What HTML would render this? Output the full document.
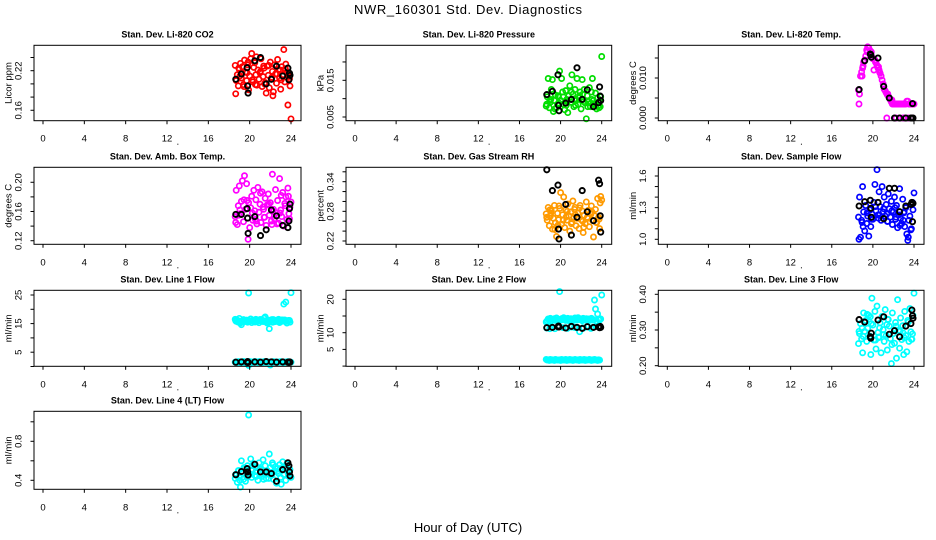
<!DOCTYPE html>
<html><head><meta charset="utf-8">
<style>
html,body{margin:0;padding:0;background:#fff;}
svg{display:block;font-family:"Liberation Sans",Arial,sans-serif;}
</style></head>
<body>
<svg id="chart" width="936" height="540" viewBox="0 0 936 540" xmlns="http://www.w3.org/2000/svg">
<rect x="0" y="0" width="936" height="540" fill="#fff"/>
<text x="468" y="14" font-size="13" text-anchor="middle" textLength="228">NWR_160301  Std. Dev. Diagnostics</text>
<text x="468" y="532" font-size="13" text-anchor="middle">Hour of Day (UTC)</text>
</svg>
<script>
// shared sample hours
const hours = [18.6,18.7,18.8,18.9,19.0,19.1,19.2,19.3,19.4,19.5,19.6,19.7,19.8,19.9,20.0,20.1,20.2,20.3,20.4,20.5,20.6,20.7,20.8,20.9,21.0,21.1,21.2,21.3,21.4,21.5,21.6,21.7,21.8,21.9,22.0,22.1,22.2,22.3,22.4,22.5,22.6,22.7,22.8,22.9,23.0,23.1,23.2,23.3,23.4,23.5,23.6,23.7,23.8,23.9,24.0];
const extraHours = [18.65,19.05,19.45,19.85,20.25,20.65,21.05,21.45,21.85,22.25,22.65,23.05,23.45,23.85,18.95,19.75,20.55,21.35,22.15,22.95,23.75];
const calHours = [18.66,19.2,19.75,19.8,19.85,20.5,21.05,21.6,22.1,22.6,23.2,23.7,23.8,23.85,23.9];
const xTicks = [0,4,8,12,16,20,24];

const co2Vals = [0.228,0.205,0.214,0.197,0.222,0.231,0.209,0.226,0.199,0.236,0.218,0.205,0.229,0.191,0.212,0.238,0.246,0.203,0.225,0.232,0.214,0.198,0.221,0.207,0.217,0.238,0.196,0.211,0.224,0.202,0.186,0.227,0.213,0.194,0.233,0.208,0.219,0.188,0.229,0.215,0.201,0.237,0.222,0.209,0.192,0.226,0.214,0.252,0.203,0.230,0.218,0.168,0.211,0.197,0.147];
const co2Extra = [0.185,0.212,0.196,0.233,0.206,0.241,0.219,0.200,0.228,0.182,0.215,0.206,0.223,0.208,0.224,0.217,0.199,0.227,0.210,0.221,0.215];
const co2Cal = [0.207,0.215,0.2245,0.197,0.186,0.235,0.240,0.200,0.207,0.227,0.212,0.224,0.206,0.216,0.213];

const presVals = [0.008,0.0105,0.0155,0.0075,0.009,0.0125,0.0152,0.0065,0.0095,0.011,0.0075,0.0085,0.0105,0.0175,0.0095,0.0155,0.0118,0.0085,0.007,0.0122,0.0098,0.0062,0.0108,0.0135,0.009,0.0165,0.0112,0.0078,0.0125,0.0095,0.0155,0.0085,0.0102,0.0118,0.0072,0.0152,0.0098,0.0125,0.0088,0.0045,0.0108,0.0092,0.013,0.0078,0.0118,0.0155,0.0095,0.0085,0.0115,0.0072,0.0102,0.0082,0.0092,0.0105,0.0215];
const presExtra = [0.0085,0.0098,0.0072,0.0088,0.0105,0.0092,0.0118,0.0082,0.0108,0.0092,0.0078,0.0098,0.0088,0.0078,0.0095,0.0108,0.0082,0.0099,0.0112,0.0088,0.0075];
const presCal = [0.0111,0.012,0.0165,0.0082,0.0067,0.0088,0.0098,0.0184,0.0098,0.0124,0.0078,0.0089,0.0132,0.0107,0.0095];

const tempVals = [0.007,0.006,0.0105,0.0115,0.0125,0.014,0.0145,0.0155,0.017,0.0178,0.0175,0.016,0.0158,0.0152,0.0148,0.012,0.0145,0.0138,0.0132,0.0125,0.012,0.0112,0.0105,0.0095,0.0085,0.0072,0.0068,0.0063,0.0058,0.0055,0.005,0.0045,0.004,0.0035,0.0035,0.0035,0.0035,0.0035,0.0035,0.0035,0.0035,0.0035,0.0035,0.0035,0.0035,0.0035,0.0035,0.0042,0.0042,0.0035,0.0035,0.0035,0.0035,0.0035,0.0035];
const tempExtra = [0.0035,0.013,0.0165,0.0165,0.014,0.0115,0.008,0.006,0.0045,0,0,0,0,0,0.0105,0.0168,0.0128,0,0,0,0];
const tempCal = [0.0071,0.0143,0.016,0.0158,0.0152,0.015,0.0079,0.005,0,0,0,0,0,0.0036,0];

const ambVals = [0.153,0.189,0.142,0.168,0.195,0.157,0.174,0.202,0.146,0.209,0.163,0.198,0.151,0.172,0.138,0.165,0.181,0.148,0.189,0.161,0.176,0.143,0.193,0.159,0.170,0.145,0.187,0.166,0.152,0.178,0.141,0.169,0.184,0.155,0.172,0.147,0.211,0.163,0.150,0.190,0.158,0.175,0.144,0.205,0.162,0.153,0.186,0.140,0.171,0.180,0.149,0.192,0.157,0.166,0.173];
const ambExtra = [0.145,0.162,0.176,0.122,0.158,0.147,0.185,0.152,0.170,0.160,0.143,0.182,0.168,0.150,0.155,0.175,0.149,0.163,0.142,0.158,0.181];
const ambCal = [0.156,0.156,0.164,0.151,0.130,0.153,0.127,0.135,0.162,0.154,0.141,0.138,0.147,0.164,0.170];

const rhVals = [0.275,0.262,0.288,0.251,0.270,0.281,0.244,0.266,0.292,0.257,0.229,0.276,0.263,0.286,0.318,0.254,0.273,0.309,0.247,0.283,0.262,0.295,0.271,0.240,0.279,0.258,0.301,0.268,0.288,0.251,0.266,0.276,0.245,0.292,0.263,0.281,0.237,0.272,0.255,0.299,0.268,0.282,0.249,0.276,0.291,0.262,0.228,0.271,0.284,0.257,0.306,0.268,0.245,0.310,0.303];
const rhExtra = [0.268,0.276,0.243,0.291,0.262,0.280,0.255,0.273,0.287,0.248,0.266,0.279,0.258,0.297,0.283,0.252,0.269,0.284,0.260,0.274,0.264];
const rhCal = [0.364,0.322,0.333,0.244,0.224,0.294,0.232,0.268,0.322,0.279,0.261,0.343,0.336,0.271,0.238];

const flowVals = [1.21,1.40,1.02,1.18,1.50,1.26,1.08,1.32,1.15,1.22,1.03,1.28,1.12,1.24,1.19,1.35,1.52,1.27,1.66,1.23,1.45,1.31,1.18,1.50,1.26,1.40,1.22,1.33,1.17,1.43,1.29,1.21,1.36,1.14,1.26,1.40,1.19,1.32,1.11,1.23,1.48,1.20,1.15,1.38,1.25,1.12,1.30,1.05,0.99,1.18,1.22,1.09,1.33,1.28,1.44];
const flowExtra = [1.00,1.12,1.25,1.19,1.31,1.23,1.29,1.17,1.27,1.21,1.13,1.26,1.02,1.35,1.16,1.28,1.20,1.24,1.30,1.18,1.10];
const flowCal = [1.316,1.356,1.37,1.294,1.209,1.35,1.195,1.483,1.483,1.262,1.316,1.33,1.35,1.167,1.34];

const l1Upper = [16.5,15.8,16.2,15.5,16.8,15.2,14.6,16.0,16.4,15.7,16.1,16.2,15.5,25.7,15.9,16.6,15.4,16.0,16.2,15.6,16.5,15.8,16.1,15.3,16.4,15.9,16.2,15.7,16.9,17.3,16.0,15.2,15.6,13.2,15.8,16.1,15.5,16.4,16.0,15.7,16.2,15.9,16.5,15.4,16.1,15.8,16.3,21.8,16.3,22.5,15.2,15.9,16.0,15.5,25.8];
const l1Lower = [1.5,1.6,1.4,1.7,1.5,1.3,1.6,1.5,1.8,1.4,1.6,1.2,1.5,0.4,1.7,1.5,1.6,1.4,1.5,1.8,1.6,1.5,1.4,1.7,1.5,1.6,1.3,1.5,1.7,1.6,1.4,1.5,1.6,1.5,0.5,1.6,1.4,1.7,1.5,1.6,1.5,1.4,1.6,1.5,1.7,1.5,1.6,1.4,1.5,1.6,1.5,1.7,1.4,1.6,1.5];
const l1Extra = [16.0,15.6,16.3,15.9,16.1,15.7,16.4,15.8,16.2,15.5,16.0,16.3,15.7,16.1,15.9,16.2,15.6,16.0,16.4,15.8,16.1];
const l1Cal = [1.5,1.6,1.5,1.7,1.4,1.6,1.5,1.7,1.6,1.5,1.6,1.5,1.4,1.6,1.5];

const l2Upper = [13.2,13.6,14.1,13.8,14.3,13.5,14.0,13.9,14.2,13.7,14.4,13.6,14.0,22.3,13.8,14.2,13.9,14.5,14.1,13.7,14.0,14.3,13.6,13.9,14.2,13.8,14.1,13.7,14.4,14.0,13.8,14.5,14.2,13.9,14.1,13.6,14.3,14.0,13.8,14.2,13.9,14.1,13.7,14.0,14.3,13.8,13.9,19.8,17.1,13.5,15.6,14.0,13.8,14.1,21.3];
const l2Lower = [2.0,1.8,1.9,1.7,2.0,1.8,1.9,1.8,1.7,2.0,1.9,1.8,1.8,1.9,1.7,2.0,1.8,1.9,1.8,2.0,1.7,1.9,1.8,2.0,1.8,1.9,1.7,1.8,2.0,1.9,1.8,1.9,1.7,2.0,1.8,1.9,1.8,2.0,1.7,1.9,1.8,1.9,2.0,1.8,1.7,1.9,1.8,2.0,1.9,1.8,1.7,1.9,1.8,null,null];
const l2Extra = [11.4,11.8,11.2,11.9,11.5,11.3,11.7,11.6,10.3,11.4,11.8,11.5,11.9,11.6,11.2,11.7,11.4,11.6,11.5,11.3,11.8];
const l2Cal = [11.5,11.6,11.8,12.0,11.7,11.4,11.9,11.6,11.3,11.8,11.6,11.7,11.5,11.9,11.6];

const l3Vals = [0.262,0.290,0.318,0.275,0.236,0.348,0.296,0.327,0.268,0.305,0.341,0.283,0.231,0.389,0.314,0.272,0.352,0.247,0.367,0.293,0.279,0.320,0.236,0.338,0.301,0.268,0.357,0.285,0.244,0.329,0.311,0.276,0.206,0.348,0.290,0.263,0.321,0.221,0.385,0.299,0.249,0.334,0.273,0.312,0.231,0.352,0.285,0.239,0.327,0.268,0.360,0.295,0.274,0.341,0.403];
const l3Extra = [0.296,0.282,0.344,0.318,0.272,0.306,0.287,0.330,0.259,0.311,0.296,0.278,0.322,0.289,0.305,0.337,0.280,0.315,0.300,0.292,0.274];
const l3Cal = [0.329,0.322,0.281,0.277,0.291,0.328,0.337,0.288,0.298,0.281,0.311,0.318,0.356,0.340,0.333];

const l4Vals = [0.42,0.45,0.38,0.50,0.44,0.33,0.60,0.47,0.41,0.52,0.39,0.48,0.55,1.07,0.46,0.62,0.43,0.51,0.57,0.45,0.49,0.53,0.40,0.58,0.46,0.52,0.44,0.61,0.48,0.55,0.42,0.50,0.47,0.67,0.53,0.45,0.58,0.41,0.49,0.54,0.37,0.52,0.47,0.56,0.43,0.50,0.59,0.46,0.53,0.40,0.57,0.48,0.44,0.51,0.43];
const l4Extra = [0.46,0.40,0.53,0.48,0.55,0.44,0.51,0.47,0.42,0.56,0.49,0.36,0.52,0.45,0.50,0.43,0.54,0.41,0.48,0.52,0.46];
const l4Cal = [0.457,0.49,0.52,0.486,0.453,0.564,0.486,0.486,0.47,0.39,0.51,0.58,0.55,0.486,0.445];

const panelTitles = ["Stan. Dev. Li-820 CO2","Stan. Dev. Li-820 Pressure","Stan. Dev. Li-820 Temp.","Stan. Dev. Amb. Box Temp.","Stan. Dev. Gas Stream RH","Stan. Dev. Sample Flow","Stan. Dev. Line 1 Flow","Stan. Dev. Line 2 Flow","Stan. Dev. Line 3 Flow","Stan. Dev. Line 4 (LT) Flow"];
const yTitles = ["Licor ppm","kPa","degrees C","degrees C","percent","ml/min","ml/min","ml/min","ml/min","ml/min"];
const yTickVals = [[0.16,0.18,0.20,0.22,0.24],[0.005,0.010,0.015,0.020],[0,0.005,0.010,0.015],[0.12,0.14,0.16,0.18,0.20],[0.22,0.24,0.26,0.28,0.30,0.32,0.34,0.36],[1.0,1.1,1.2,1.3,1.4,1.5,1.6],[0,5,10,15,20,25],[0,5,10,15,20],[0.20,0.25,0.30,0.35,0.40],[0.4,0.6,0.8,1.0]];
const yTickText = [["0.16","","","0.22",""],["0.005","","0.015",""],["0.000","","0.010",""],["0.12","","0.16","","0.20"],["0.22","","","0.28","","","0.34",""],["1.0","","","1.3","","","1.6"],["","5","","15","","25"],["","5","10","","20"],["0.20","","0.30","","0.40"],["0.4","","0.8",""]];

const NS = "http://www.w3.org/2000/svg";
const svg = document.getElementById("chart");
function mk(tag, attrs, parent){const e=document.createElementNS(NS,tag);for(const k in attrs)e.setAttribute(k,attrs[k]);(parent||svg).appendChild(e);return e;}

const cols = [[34,301],[346,611.7],[658.3,924]];
const rows = [[45.3,120.7],[167.3,244.3],[290.3,366.3],[411.3,489.3]];
const domains = [[0.1442,0.2585],[0.00399,0.02454],[-0.000675,0.018175],[0.1151,0.2205],[0.2133,0.3691],[0.9526,1.6825],[0.07,26.64],[-0.06,22.7],[0.1983,0.4112],[0.3077,1.1077]];
const panels = [
 {col:"#ff0000", sets:[[hours,co2Vals],[extraHours,co2Extra]], cal:co2Cal},
 {col:"#00dd00", sets:[[hours,presVals],[extraHours,presExtra]], cal:presCal},
 {col:"#ff00ff", sets:[[hours,tempVals],[extraHours,tempExtra]], cal:tempCal},
 {col:"#ff00ff", sets:[[hours,ambVals],[extraHours,ambExtra]], cal:ambCal},
 {col:"#ff9a00", sets:[[hours,rhVals],[extraHours,rhExtra]], cal:rhCal},
 {col:"#0000ff", sets:[[hours,flowVals],[extraHours,flowExtra]], cal:flowCal},
 {col:"#00ffff", sets:[[hours,l1Upper],[hours,l1Lower],[extraHours,l1Extra]], cal:l1Cal},
 {col:"#00ffff", sets:[[hours,l2Upper],[hours,l2Lower],[extraHours,l2Extra]], cal:l2Cal},
 {col:"#00ffff", sets:[[hours,l3Vals],[extraHours,l3Extra]], cal:l3Cal},
 {col:"#00ffff", sets:[[hours,l4Vals],[extraHours,l4Extra]], cal:l4Cal}
];

panels.forEach((p,i)=>{
  const [L,R] = cols[i%3], [T,B] = rows[Math.floor(i/3)];
  const x0 = L+9, x24 = R-10;
  const xs = h => x0 + (x24-x0)*h/24;
  const [lo,hi] = domains[i];
  const ys = v => B - (v-lo)/(hi-lo)*(B-T);
  const g = mk("g",{});
  
  
  const t = mk("text",{x:(L+R)/2,y:T-8,"font-size":"9","font-weight":"bold","text-anchor":"middle"},g);
  t.textContent = panelTitles[i];
  
  
  const yt = mk("text",{x:0,y:0,"font-size":"9.5","text-anchor":"middle",transform:`translate(${L-22.5},${(T+B)/2}) rotate(-90)`},g);
  yt.textContent = yTitles[i];
  
  
  const pg = mk("g",{fill:"none",stroke:p.col,"stroke-width":"1.7"},g);
  p.sets.forEach(([hx,vy])=>{
    vy.forEach((v,k)=>{
      if(v===null||v===undefined) return;
      const c = mk("circle",{cx:xs(hx[k]).toFixed(1),cy:ys(v).toFixed(1),r:"2.6"},pg);
      
      
    });
  });
  const bg = mk("g",{fill:"none",stroke:"#000","stroke-width":"1.9"},g);
  p.cal.forEach((v,k)=>{
    const c = mk("circle",{cx:xs(calHours[k]).toFixed(1),cy:ys(v).toFixed(1),r:"2.6"},bg);
    
    
  });
  const box = mk("rect",{x:L,y:T,width:R-L,height:B-T,fill:"none",stroke:"#000","stroke-width":"1"},g);
  
  
  xTicks.forEach(h=>{
    const x = xs(h);
    mk("line",{x1:x,x2:x,y1:B,y2:B+3.5,stroke:"#000","stroke-width":"1"},g);
    const lt = mk("text",{x:x,y:B+21,"font-size":"9.5","text-anchor":"middle"},g);
    lt.textContent = h;
    
    
  });
  mk("rect",{x:xs(13),y:B+23,width:1,height:1,fill:"#000"},g);
  yTickVals[i].forEach((v,k)=>{
    const y = ys(v);
    mk("line",{x1:L-3.5,x2:L,y1:y,y2:y,stroke:"#000","stroke-width":"1"},g);
    if(yTickText[i][k]){
      const lt = mk("text",{x:0,y:0,"font-size":"9.5","text-anchor":"middle",transform:`translate(${L-12.5},${y}) rotate(-90)`},g);
      lt.textContent = yTickText[i][k];
      
      
    }
  });
});
</script>
</body></html>
